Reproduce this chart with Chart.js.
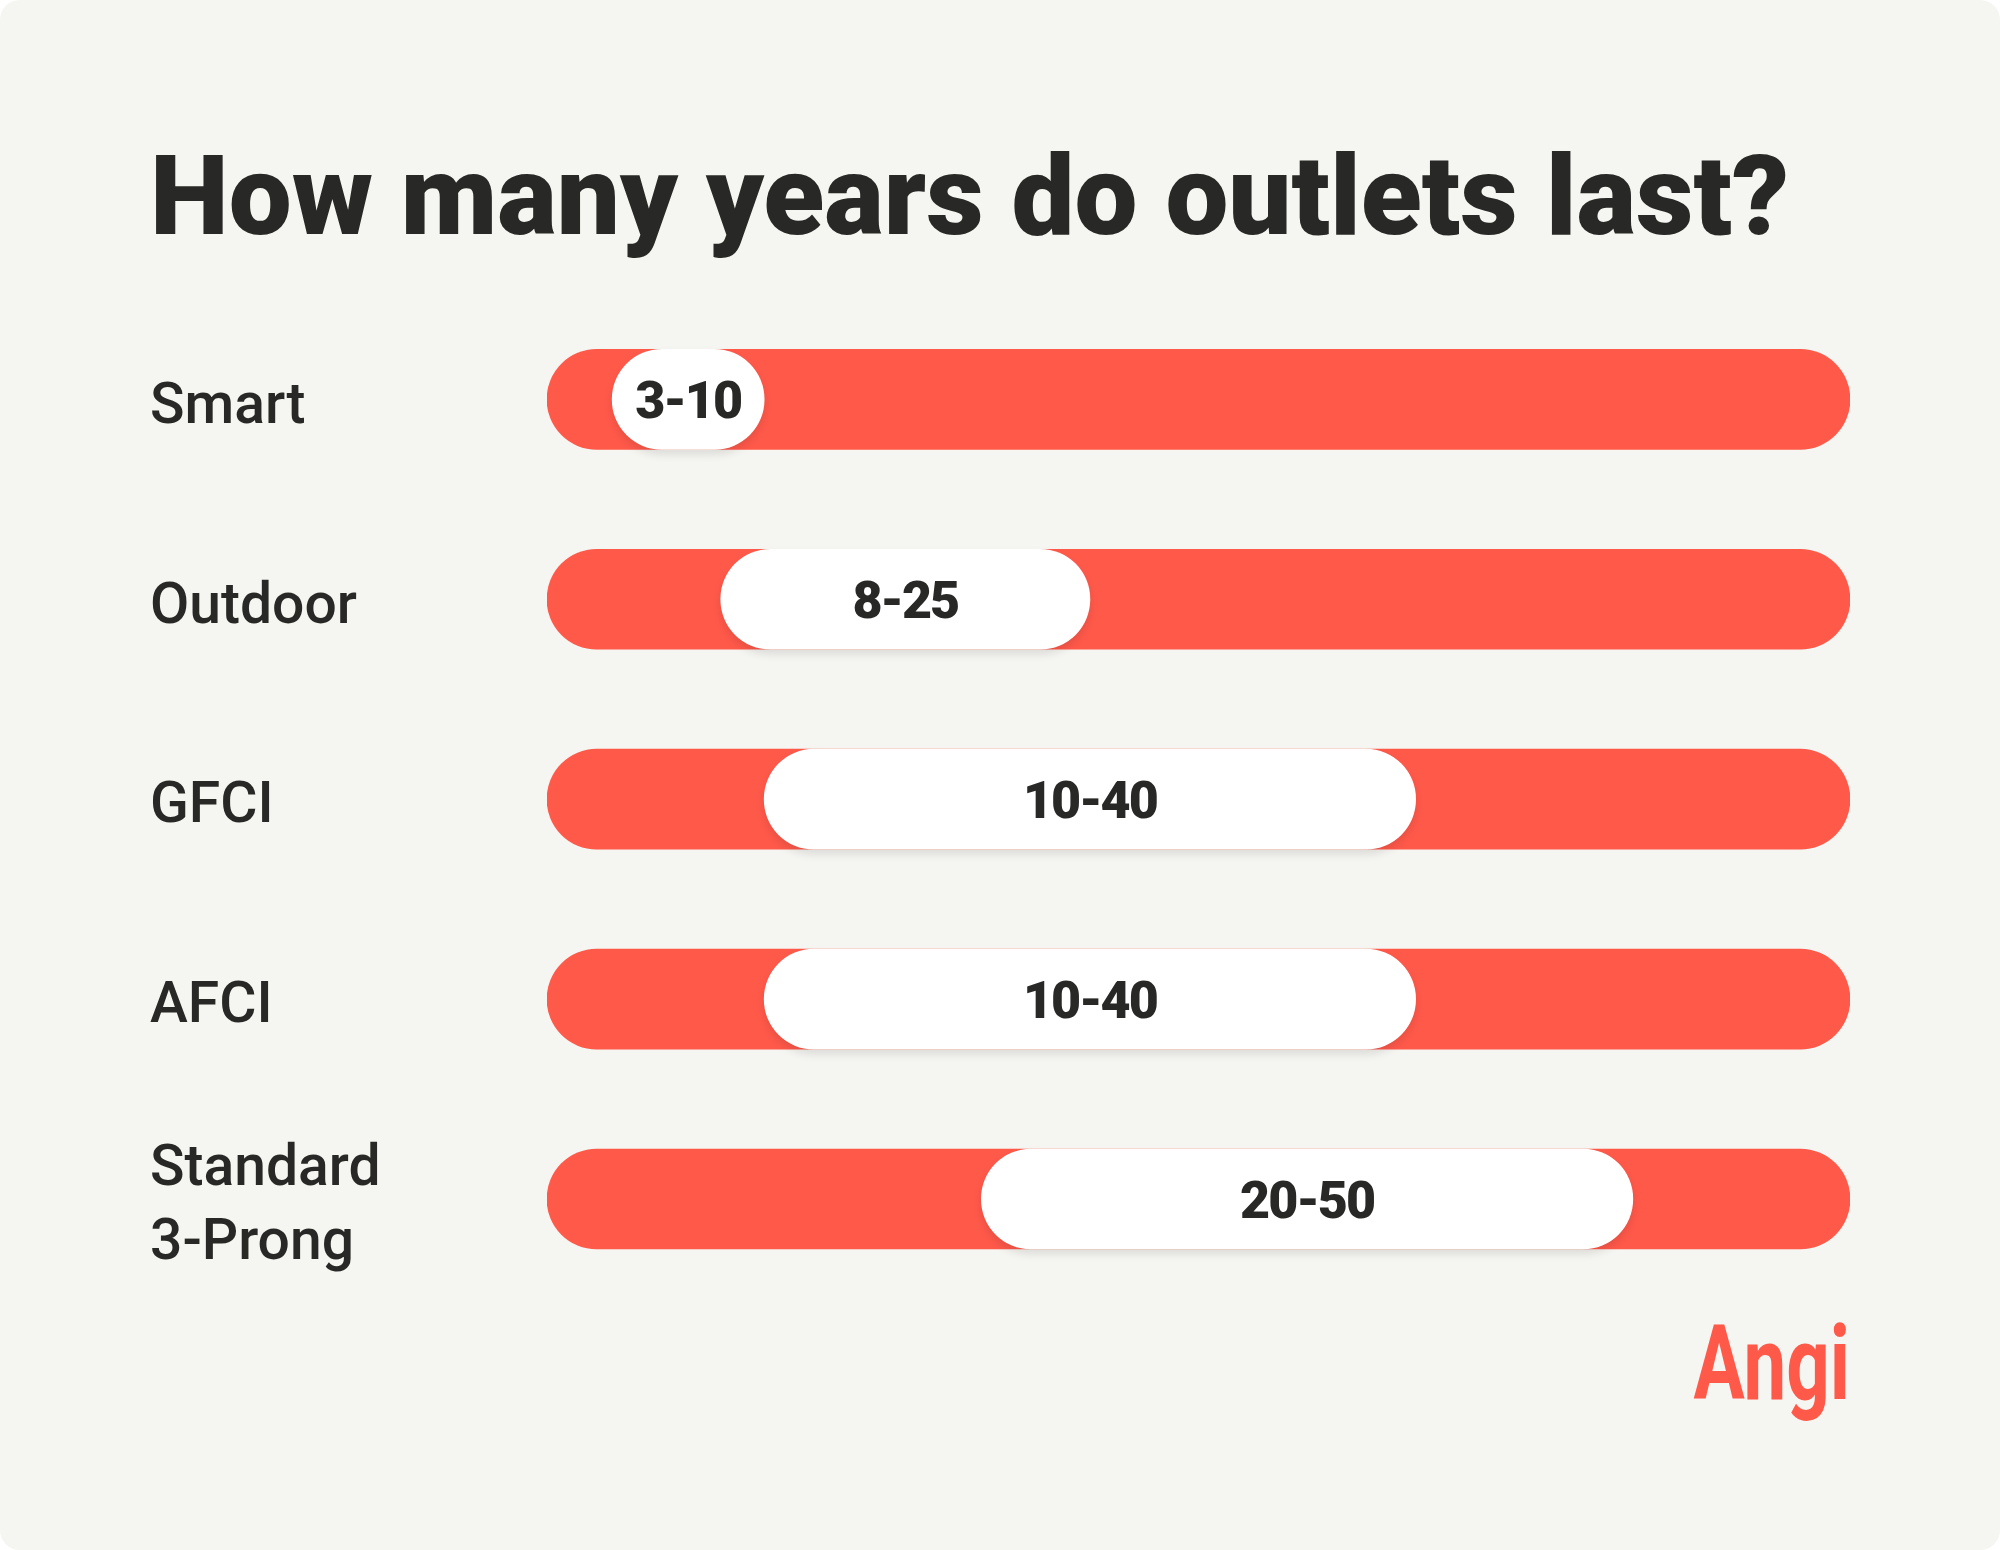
<!DOCTYPE html>
<html>
<head>
<meta charset="utf-8">
<script src="https://cdn.jsdelivr.net/npm/chart.js@4"></script>
<style>
  body { margin: 0; background: #ffffff; }
  .card {
    width: 2000px;
    height: 1550px;
    background: #f5f5f1;
    border-radius: 20px;
    overflow: hidden;
  }
  canvas { display: block; }
</style>
</head>
<body>
<div class="card">
  <canvas id="outlets-chart" width="2000" height="1550"></canvas>
</div>
<script>
const outletTypes = ["Smart", "Outdoor", "GFCI", "AFCI", ["Standard", "3-Prong"]];
const minYears = [3, 8, 10, 10, 20];
const maxYears = [10, 25, 40, 40, 50];
const scaleMax = 60;

const red = "#ff594a";
const ink = "#282826";

// Draws the "3-10" style text centred in each white pill
const pillLabels = {
  id: "pillLabels",
  afterDatasetsDraw(chart) {
    const ctx = chart.ctx;
    const meta = chart.getDatasetMeta(1);
    ctx.save();
    ctx.font = "900 52px Roboto";
    ctx.letterSpacing = "-2px";
    ctx.fillStyle = ink;
    ctx.textAlign = "center";
    ctx.textBaseline = "middle";
    meta.data.forEach((bar, i) => {
      const cx = (bar.x + bar.base) / 2;
      ctx.fillText(minYears[i] + "-" + maxYears[i], cx, bar.y + 6);
    });
    ctx.restore();
  },
};

// Soft shadow under the white pills
const pillShadow = {
  id: "pillShadow",
  beforeDatasetDraw(chart, args) {
    if (args.index !== 1) return;
    const ctx = chart.ctx;
    ctx.save();
    ctx.shadowColor = "rgba(0, 0, 0, 0.10)";
    ctx.shadowBlur = 8;
    ctx.shadowOffsetY = 5;
  },
  afterDatasetDraw(chart, args) {
    if (args.index !== 1) return;
    chart.ctx.restore();
  },
};

// Angi wordmark, bottom right (condensed by squeezing Roboto)
const brandMark = {
  id: "brandMark",
  afterDraw(chart) {
    const ctx = chart.ctx;
    ctx.save();
    ctx.translate(chart.chartArea.right, 1399);
    ctx.scale(0.74, 1);
    ctx.font = "700 103px Roboto";
    ctx.fillStyle = red;
    ctx.textAlign = "right";
    ctx.textBaseline = "alphabetic";
    ctx.fillText("Angi", 0, 0);
    ctx.restore();
  },
};

const ctx = document.getElementById("outlets-chart").getContext("2d");
new Chart(ctx, {
  type: "bar",
  data: {
    labels: outletTypes,
    datasets: [
      {
        label: "Scale",
        data: outletTypes.map(() => [0, scaleMax]),
        backgroundColor: red,
        borderRadius: 50,
        borderSkipped: false,
        barThickness: 100,
        grouped: false,
        order: 2,
      },
      {
        label: "Years",
        data: minYears.map((lo, i) => [lo, maxYears[i]]),
        backgroundColor: "#ffffff",
        borderRadius: 50,
        borderSkipped: false,
        barThickness: 100,
        grouped: false,
        order: 1,
      },
    ],
  },
  options: {
    indexAxis: "y",
    responsive: false,
    animation: false,
    layout: {
      padding: { left: 150, right: 150, top: 139, bottom: 251 },
    },
    scales: {
      x: {
        min: 0,
        max: scaleMax,
        display: false,
      },
      y: {
        grid: { display: false },
        border: { display: false },
        ticks: {
          crossAlign: "far",
          color: ink,
          padding: 0,
          labelOffset: 9,
          font: { family: "Roboto", size: 57, weight: 500, lineHeight: 1.3 },
        },
        afterFit(scale) {
          scale.width = 547 - 150;
        },
      },
    },
    plugins: {
      legend: { display: false },
      tooltip: { enabled: false },
      title: {
        display: true,
        text: "How many years do outlets last?",
        align: "start",
        color: ink,
        font: { family: "Roboto", size: 112, weight: 900, lineHeight: 1.2 },
        padding: { top: 0, bottom: 26 },
      },
    },
  },
  plugins: [pillShadow, pillLabels, brandMark],
});
</script>
</body>
</html>
